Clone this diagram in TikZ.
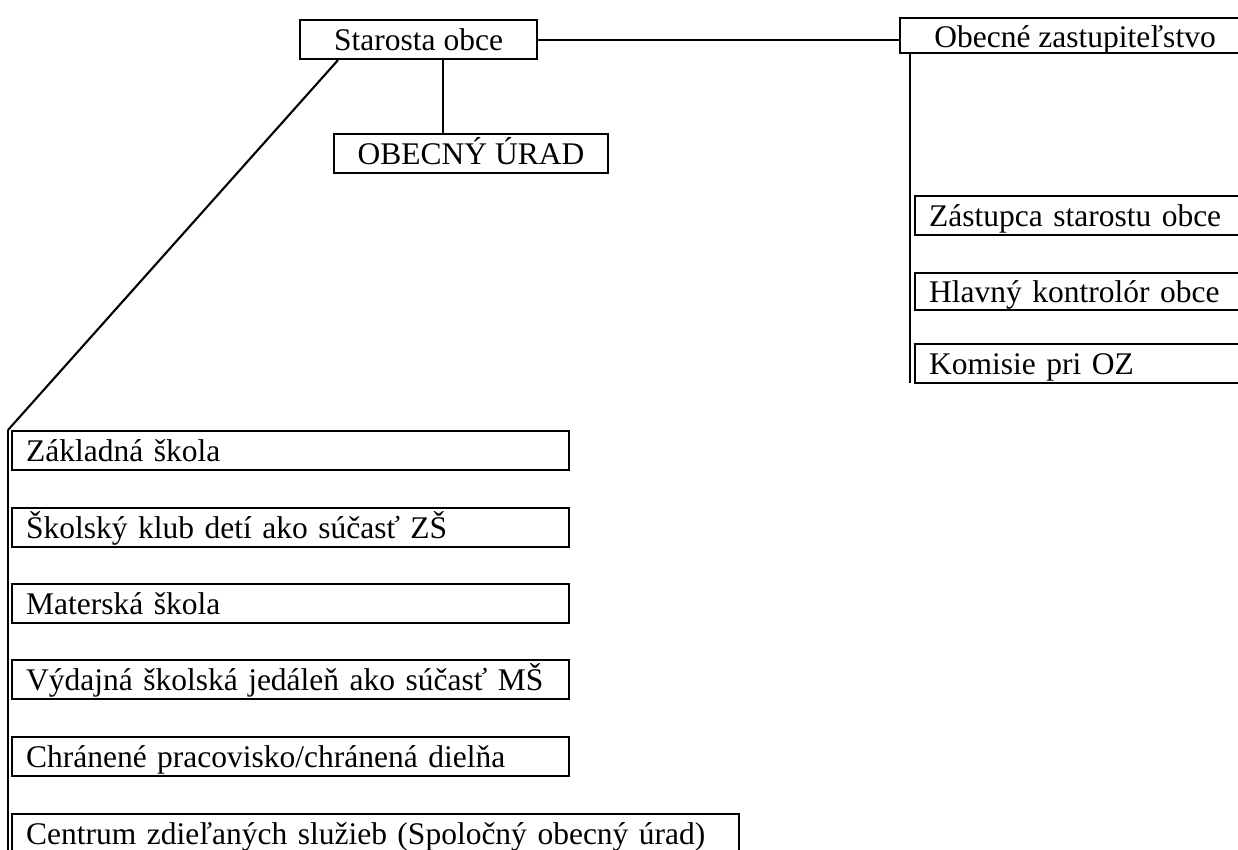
\documentclass[tikz,border=0pt]{standalone}
\usepackage{fontspec}
\setmainfont{Liberation Serif}
\begin{document}
\begin{tikzpicture}[x=1pt,y=-1pt,
  line width=2.1pt,
  box/.style={draw, rectangle, anchor=north west, inner ysep=1pt,
    text height=29pt, text depth=8pt,
    font=\fontsize{31.5}{36}\selectfont},
  lbox/.style={box, inner xsep=14pt, align=left, text width=#1},
  cbox/.style={box, inner xsep=0pt, minimum width=#1}]
\useasboundingbox (0,0) rectangle (1238,849);
\clip (0,0) rectangle (1238,849);
\fill[white] (0,0) rectangle (1238,849);

% top
\node[cbox=237pt] (st) at (299,19) {Starosta obce};
\node[cbox=274pt] (ou) at (333,133) {OBECNÝ ÚRAD};
\node[cbox=350pt, inner ysep=0pt, text depth=6pt] (oz) at (899,17) {Obecné zastupiteľstvo};

% right column
\node[lbox=372pt] (zso) at (914,195) {Zástupca starostu obce};
\node[lbox=372pt, inner ysep=0pt] (hko) at (914,272) {Hlavný kontrolór obce};
\node[lbox=372pt] (koz) at (914,343) {Komisie pri OZ};

% left column
\node[lbox=529pt] (zs) at (11,430) {Základná škola};
\node[lbox=529pt] (skd) at (11,507) {Školský klub detí ako súčasť ZŠ};
\node[lbox=529pt] (ms) at (11,583) {Materská škola};
\node[lbox=529pt] (vsj) at (11,659) {Výdajná školská jedáleň ako súčasť MŠ};
\node[lbox=529pt] (chp) at (11,736) {Chránené pracovisko/chránená dielňa};
\node[lbox=699pt] (czs) at (11,813) {Centrum zdieľaných služieb (Spoločný obecný úrad)};

% connectors
\coordinate (lt) at (8,430);
\coordinate (lb) at (8,870);
\coordinate (rb) at (910,383);
\draw (st.east) -- (st.east -| oz.west);
\draw ([xshift=-28pt]ou.north) -- ([xshift=-28pt]ou.north |- st.south);
\draw (lt) -- ([xshift=39pt]st.south west);
\draw (lt) -- (lb);
\draw ([xshift=11pt]oz.south west) -- (rb);
\end{tikzpicture}
\end{document}
